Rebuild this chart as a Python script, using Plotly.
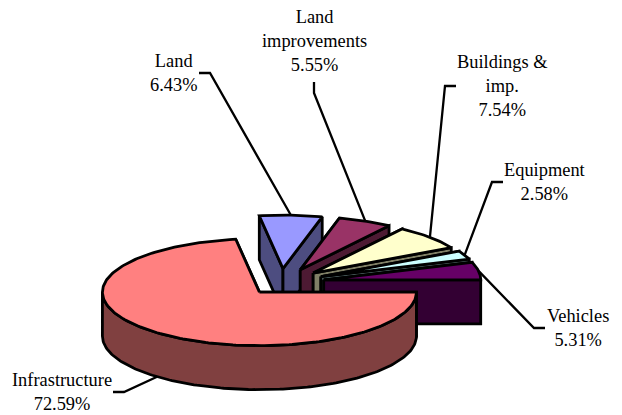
import math
import plotly.graph_objects as go

categories = ["Infrastructure", "Land", "Land improvements", "Buildings & imp.", "Equipment", "Vehicles"]
values = [72.59, 6.43, 5.55, 7.54, 2.58, 5.31]
label_lines = [["Infrastructure", "72.59%"], ["Land", "6.43%"], ["Land", "improvements", "5.55%"],
               ["Buildings &", "imp.", "7.54%"], ["Equipment", "2.58%"], ["Vehicles", "5.31%"]]
top_colors = ["#FF8080", "#9999FF", "#993366", "#FFFFCC", "#CCFFFF", "#660066"]
side_colors = ["#804040", "#4D4D80", "#4D1A33", "#808066", "#668080", "#330033"]

# drawing geometry (page pixels)
W, H = 622, 415
CX, CY, RX, RY, DEPTH, EXPLODE = 285, 282, 157, 53.5, 44, 0.25
LW = 2.8
FONT = dict(family="Liberation Serif", size=18.4, color="black")
label_xy = [(62, 392), (174, 73), (314, 41), (502, 86), (544, 182), (578, 328)]
elbows = [[(113, 392), (124, 392)], [(199, 73), (210, 73)], [(314, 82), (314, 93)],
          [(456, 86), (445, 86)], [(503, 182), (492, 182)], [(545, 328), (534, 328)]]
nudge_x = [0, -4, -1, -1, 0, 0]

total = sum(values)
spans, start = [], 0.0
for v in values:
    spans.append((start, start + v / total * 2 * math.pi))
    start = spans[-1][1]


def pt(a, scale=1.0, ox=0.0, oy=0.0, dz=0.0):
    return (ox + scale * RX * math.cos(a), oy + scale * RY * math.sin(a) + dz)


def origin(i):
    a0, a1 = spans[i]
    m = (a0 + a1) / 2
    return pt(m, EXPLODE, CX + nudge_x[i], CY)


def arc(a0, a1, ox, oy, dz=0.0):
    n = max(3, int(abs(a1 - a0) / 0.02))
    return [pt(a0 + (a1 - a0) * k / n, 1.0, ox, oy, dz) for k in range(n + 1)]


fig = go.Figure()


def poly(points, color):
    xs = [p[0] for p in points] + [points[0][0]]
    ys = [p[1] for p in points] + [points[0][1]]
    fig.add_trace(go.Scatter(x=xs, y=ys, mode="lines", fill="toself", fillcolor=color,
                             line=dict(color="black", width=LW), hoverinfo="skip", showlegend=False))


def draw_slice(i):
    a0, a1 = spans[i]
    ox, oy = origin(i)
    apex = (ox, oy)
    down = (ox, oy + DEPTH)
    for a in (a0, a1):
        e = pt(a, 1.0, ox, oy)
        poly([apex, e, (e[0], e[1] + DEPTH), down], side_colors[i])
    s0, s1 = max(a0, 0.0), min(a1, math.pi)
    if s1 > s0:
        poly(arc(s0, s1, ox, oy) + arc(s1, s0, ox, oy, DEPTH), side_colors[i])
    poly([apex] + arc(a0, a1, ox, oy), top_colors[i])


for i in [1, 2, 3, 4, 5, 0]:
    draw_slice(i)

# leader lines, from label elbow to the middle of each slice's outer edge
for i, el in enumerate(elbows):
    m = sum(spans[i]) / 2
    ox, oy = origin(i)
    end = pt(m, 1.0, ox, oy, DEPTH if math.sin(m) > 0 else 0.0)
    path = el + [end]
    fig.add_trace(go.Scatter(x=[p[0] for p in path], y=[p[1] for p in path], mode="lines",
                             line=dict(color="black", width=2.3), hoverinfo="skip", showlegend=False))

annotations = [dict(x=x, y=y, xref="x", yref="y", text="<br>".join(t), showarrow=False,
                    font=FONT, align="center", xanchor="center", yanchor="middle")
               for (x, y), t in zip(label_xy, label_lines)]

fig.update_layout(width=W, height=H, margin=dict(l=0, r=0, t=0, b=0),
                  paper_bgcolor="white", plot_bgcolor="white", showlegend=False,
                  annotations=annotations,
                  xaxis=dict(range=[0, W], visible=False, fixedrange=True),
                  yaxis=dict(range=[H, 0], visible=False, fixedrange=True))
fig.write_html("out.html", config={"displayModeBar": False},
               post_script="document.body.style.margin='0';document.documentElement.style.overflow='hidden';")
